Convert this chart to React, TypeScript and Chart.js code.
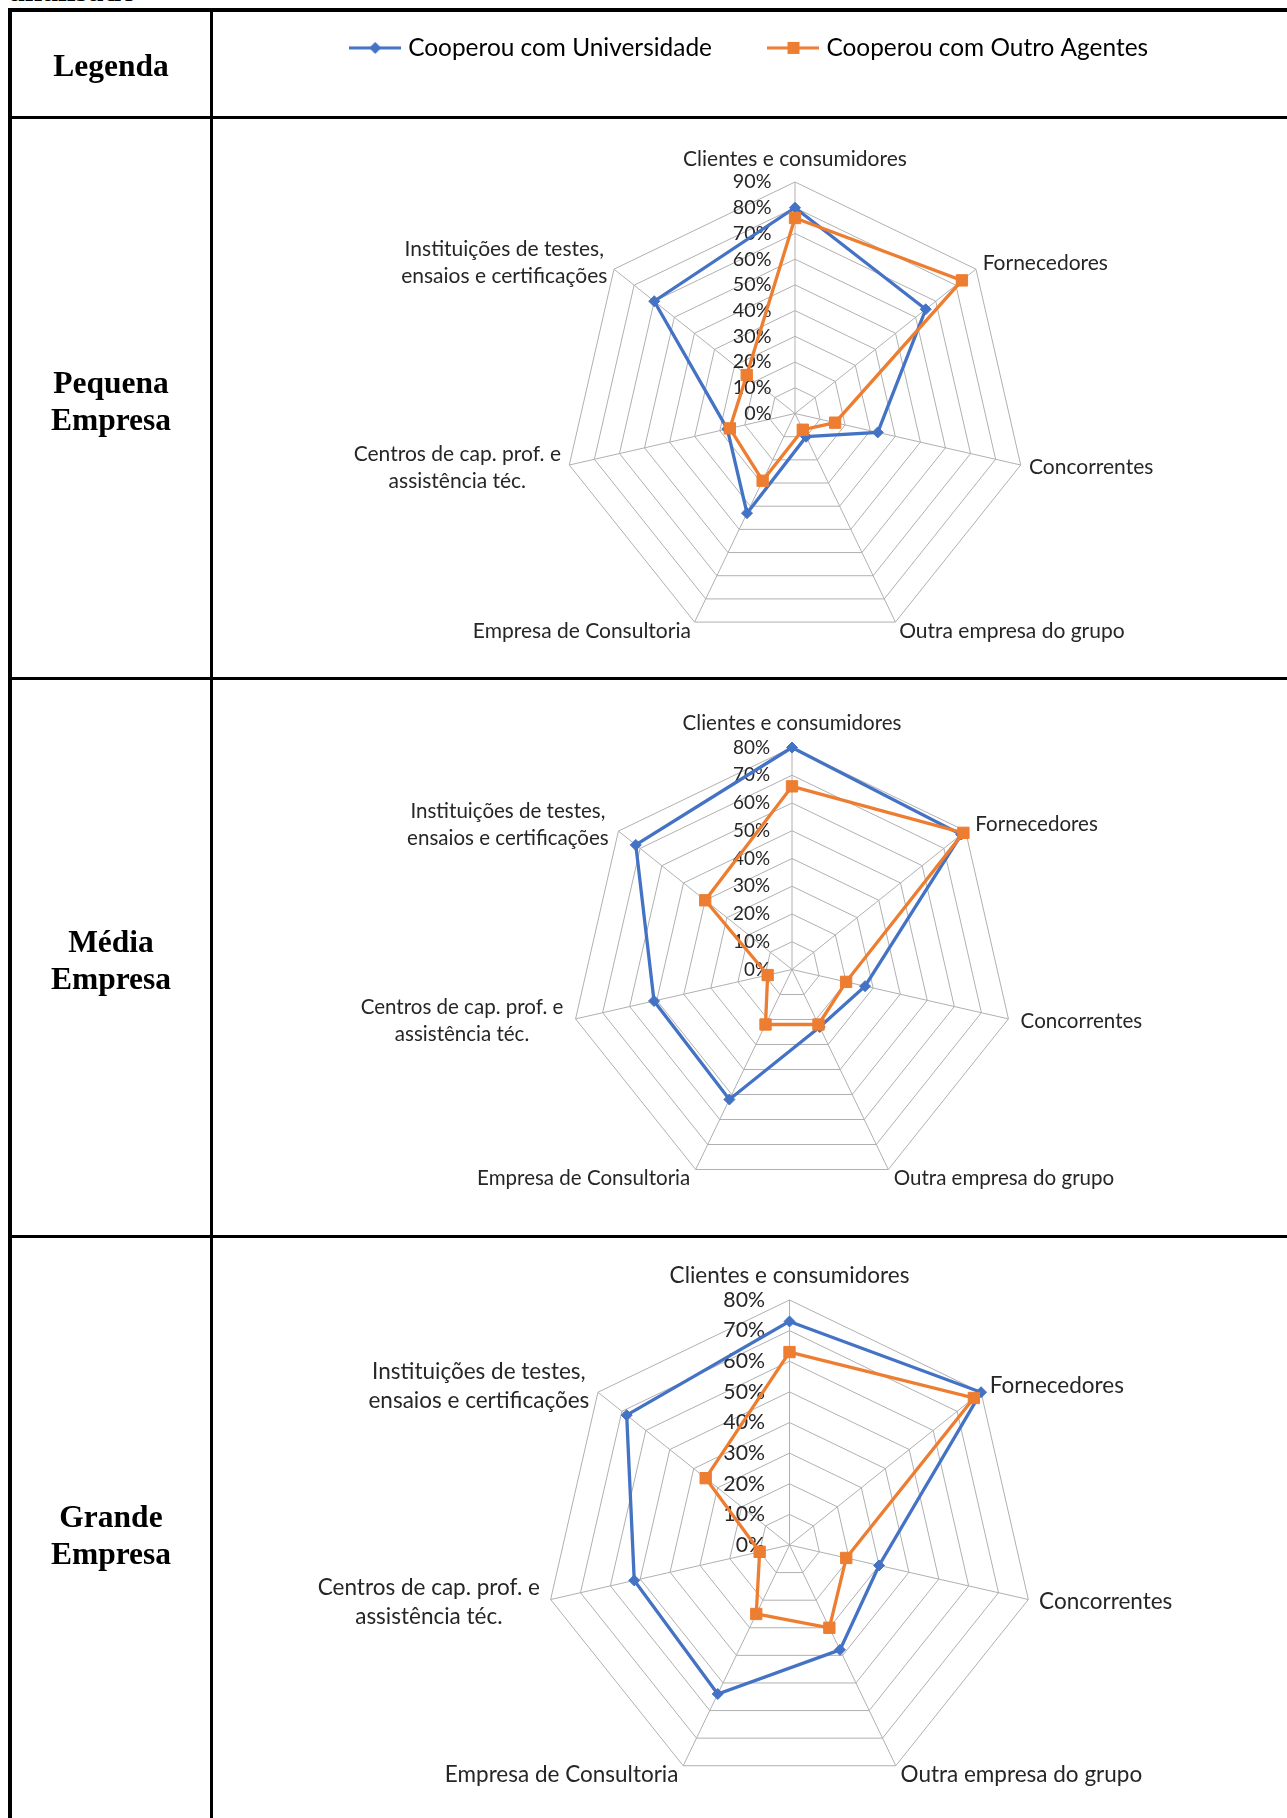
import React, { useEffect, useRef } from 'react';
import { Chart, RadialLinearScale, registerables } from 'chart.js';

Chart.register(...registerables);

// ---------------- data ----------------
const categories: (string | string[])[] = [
  'Clientes e consumidores',
  'Fornecedores',
  'Concorrentes',
  'Outra empresa do grupo',
  'Empresa de Consultoria',
  ['Centros de cap. prof. e', 'assistência téc.'],
  ['Instituições de testes,', 'ensaios e certificações'],
];
const seriesNames = ['Cooperou com Universidade', 'Cooperou com Outro Agentes'];

const pequenaUniversidade = [80, 65, 33, 10, 43, 27, 70];
const pequenaOutros = [76, 83, 16, 7, 29, 26, 24];
const mediaUniversidade = [80, 78, 27, 23, 52, 51, 72];
const mediaOutros = [66, 79, 20, 22, 22, 9, 40];
const grandeUniversidade = [73, 80, 30, 38, 54, 52, 68];
const grandeOutros = [63, 77, 19, 30, 25, 10, 35];

const pequenaMax = 90;
const mediaMax = 80;
const grandeMax = 80;
const tickStep = 10;

const legendTitle = 'Legenda';
const rowTitles = [
  ['Pequena', 'Empresa'],
  ['Média', 'Empresa'],
  ['Grande', 'Empresa'],
];
const captionFragment = 'analisado';

// ---------------- styles ----------------
const FAMILY = 'Lato, "Open Sans", sans-serif';
const SERIF = '"Liberation Serif", "Times New Roman", serif';
const TEXT = '#262626';
const GRID = '#b0b0b0';
const BLUE = '#4472C4';
const ORANGE = '#ED7D31';
const LABEL_DY = 10;

const CANVAS_LEFT = 213;
const CANVAS_W = 1074;

function fitFontSize(text: string, width: number): number {
  const ctx = document.createElement('canvas').getContext('2d') as CanvasRenderingContext2D;
  ctx.font = `100px ${FAMILY}`;
  return (100 * width) / ctx.measureText(text).width;
}

const legendSize = fitFontSize(seriesNames[0], 304);
const LEGEND_PAD = 60.7;
const LEGEND_SHIFT = 2.5;
const LEGEND_CY = 47.5;
const legendBoxW = 66 - legendSize;
const chart1Top = Math.round(LEGEND_CY - LEGEND_PAD - legendSize / 2);

function legendIcon(color: string, shape: 'diamond' | 'square') {
  const c = document.createElement('canvas');
  c.width = 52;
  c.height = 16;
  const x = c.getContext('2d') as CanvasRenderingContext2D;
  x.strokeStyle = color;
  x.lineWidth = 3;
  x.beginPath();
  x.moveTo(0, 8);
  x.lineTo(52, 8);
  x.stroke();
  x.fillStyle = color;
  if (shape === 'diamond') {
    x.beginPath();
    x.moveTo(26, 2);
    x.lineTo(32, 8);
    x.lineTo(26, 14);
    x.lineTo(20, 8);
    x.closePath();
    x.fill();
  } else {
    x.fillRect(20, 2, 12, 12);
  }
  return c;
}
const legendIcons = [legendIcon(BLUE, 'diamond'), legendIcon(ORANGE, 'square')];

type Geo = {
  cx: number; cy: number; r: number; tickGap: number; padTop: number; padSide: number;
  labelW: number; tickW: number; lh: number;
};

// padTop / padSide are on top of the 8px extra that the radial scale adds for tick backdrops
const geoPequena: Geo = { cx: 795, cy: 413.5, r: 231.5, tickGap: 23.5, padTop: 1.5, padSide: 0.5, labelW: 224, tickW: 38.7, lh: 27 };
const geoMedia: Geo = { cx: 792, cy: 969.5, r: 222, tickGap: 22, padTop: 2.5, padSide: 4.5, labelW: 219, tickW: 37, lh: 26.5 };
const geoGrande: Geo = { cx: 789.5, cy: 1545, r: 245, tickGap: 24.5, padTop: 1.5, padSide: 3, labelW: 240, tickW: 41.7, lh: 29 };

function makeRadialScale(scaleId: string, g: Geo, left: number, top: number, tickSize: number) {
  const cx = g.cx - left;
  const cy = g.cy - top;
  const Base: any = RadialLinearScale;
  class ExcelRadialScale extends Base {
    static id = scaleId;
    setCenterPoint() {
      this.xCenter = cx;
      this.yCenter = cy;
      this.drawingArea = g.r;
    }
    fit() {
      super.fit();
      const items = this._pointLabelItems;
      const labels = this._pointLabels;
      if (!Array.isArray(items)) return;
      const n = items.length;
      for (let i = 1; i < n; i++) {
        const it = items[i];
        const theta = (2 * Math.PI * i) / n;
        const vertex = this.getPointPosition(i, this.drawingArea);
        const h = it.bottom - it.top;
        const shift = vertex.y - LABEL_DY * Math.cos(theta) - h / 2 - it.top;
        it.y += shift;
        it.top += shift;
        it.bottom += shift;
        if (Array.isArray(labels[i])) {
          it.x = (it.left + it.right) / 2;
          it.textAlign = 'center';
        }
      }
    }
    drawLabels() {
      const ctx = this.ctx;
      ctx.save();
      ctx.translate(this.xCenter, this.yCenter);
      ctx.font = `${tickSize}px ${FAMILY}`;
      ctx.fillStyle = TEXT;
      ctx.textAlign = 'right';
      ctx.textBaseline = 'middle';
      this.ticks.forEach((t: any) => {
        ctx.fillText(String(t.label), -g.tickGap, -this.getDistanceFromCenterForValue(t.value));
      });
      ctx.restore();
    }
  }
  return ExcelRadialScale;
}

type Panel = {
  key: string; top: number; bottom: number; geo: Geo; uni: number[]; outros: number[]; max: number; legend: boolean;
};

const panels: Panel[] = [
  { key: 'pequena', top: chart1Top, bottom: 677, geo: geoPequena, uni: pequenaUniversidade, outros: pequenaOutros, max: pequenaMax, legend: true },
  { key: 'media', top: 680, bottom: 1235, geo: geoMedia, uni: mediaUniversidade, outros: mediaOutros, max: mediaMax, legend: false },
  { key: 'grande', top: 1238, bottom: 1818, geo: geoGrande, uni: grandeUniversidade, outros: grandeOutros, max: grandeMax, legend: false },
];

panels.forEach((p) => {
  const tickSize = fitFontSize(`${p.max}%`, p.geo.tickW);
  Chart.register(makeRadialScale('excel_' + p.key, p.geo, CANVAS_LEFT, p.top, tickSize) as any);
});

function RadarPanel({ panel }: { panel: Panel }) {
  const ref = useRef<HTMLCanvasElement>(null);
  useEffect(() => {
    const g = panel.geo;
    const labelSize = fitFontSize(categories[0] as string, g.labelW);
    const chart = new Chart(ref.current as HTMLCanvasElement, {
      type: 'radar',
      data: {
        labels: categories as any,
        datasets: [
          {
            label: seriesNames[0],
            data: panel.uni,
            borderColor: BLUE,
            backgroundColor: BLUE,
            pointBackgroundColor: BLUE,
            pointBorderColor: BLUE,
            pointStyle: 'rectRot',
            pointRadius: 5.5,
            pointBorderWidth: 1,
            borderWidth: 3.3,
            fill: false,
            order: 2,
            clip: false as any,
          },
          {
            label: seriesNames[1],
            data: panel.outros,
            borderColor: ORANGE,
            backgroundColor: ORANGE,
            pointBackgroundColor: ORANGE,
            pointBorderColor: ORANGE,
            pointStyle: 'rect',
            pointRadius: 8,
            pointBorderWidth: 1,
            borderWidth: 3.3,
            fill: false,
            order: 1,
            clip: false as any,
          },
        ],
      },
      options: {
        responsive: false,
        animation: false,
        events: [],
        layout: { padding: { left: panel.legend ? LEGEND_SHIFT : 0 } },
        elements: { line: { tension: 0 } },
        scales: {
          r: {
            type: ('excel_' + panel.key) as any,
            min: 0,
            max: panel.max,
            ticks: {
              stepSize: tickStep,
              display: true,
              showLabelBackdrop: false,
              backdropPadding: 2,
              font: { size: 12 },
              callback: (v: any) => `${v}%`,
            },
            grid: { color: GRID, lineWidth: 1 },
            angleLines: { color: GRID, lineWidth: 1 },
            pointLabels: {
              color: TEXT,
              font: { family: FAMILY, size: labelSize, lineHeight: g.lh / labelSize },
              padding: (c: any) => (c.index === 0 ? g.padTop : g.padSide),
            },
          } as any,
        },
        plugins: {
          tooltip: { enabled: false },
          legend: {
            display: panel.legend,
            position: 'top',
            align: 'center',
            labels: {
              usePointStyle: true,
              pointStyleWidth: legendBoxW,
              boxHeight: legendSize,
              padding: LEGEND_PAD,
              color: TEXT,
              font: { family: FAMILY, size: legendSize },
              generateLabels: (ch: any) =>
                ch.data.datasets.map((ds: any, i: number) => ({
                  text: ds.label,
                  pointStyle: legendIcons[i],
                  fillStyle: ds.borderColor,
                  strokeStyle: ds.borderColor,
                  lineWidth: 0,
                  hidden: false,
                  datasetIndex: i,
                })),
            },
          },
        },
      } as any,
    });
    return () => chart.destroy();
  }, []);
  return (
    <canvas
      ref={ref}
      width={CANVAS_W}
      height={panel.bottom - panel.top}
      style={{ position: 'absolute', left: CANVAS_LEFT, top: panel.top, zIndex: 1, display: 'block' }}
    />
  );
}

const rule = (left: number, top: number, width: number, height: number): React.CSSProperties => ({
  position: 'absolute', left, top, width, height, background: '#000', zIndex: 2,
});

const cellText = (top: number, bottom: number): React.CSSProperties => ({
  position: 'absolute', left: 12, width: 198, top, height: bottom - top,
  display: 'flex', alignItems: 'center', justifyContent: 'center', textAlign: 'center',
  fontFamily: SERIF, fontWeight: 'bold', fontSize: 31.5, lineHeight: '37px', color: '#000', zIndex: 2,
});

export default function App() {
  const rowBounds = [[122, 679], [683, 1237], [1238, 1832]];
  return (
    <div style={{ position: 'absolute', left: 0, top: 0, width: 1287, height: 1818, overflow: 'hidden', background: '#fff' }}>
      <div style={{ position: 'absolute', left: 9, top: -25, fontFamily: SERIF, fontWeight: 'bold', fontSize: 31.5, lineHeight: '31px', color: '#000', whiteSpace: 'nowrap' }}>
        {captionFragment}
      </div>
      {panels.map((p) => (
        <RadarPanel key={p.key} panel={p} />
      ))}
      <div style={rule(8, 8, 1292, 4)} />
      <div style={rule(8, 8, 4, 1832)} />
      <div style={rule(210, 8, 3, 1832)} />
      <div style={rule(8, 116, 1292, 3)} />
      <div style={rule(8, 677, 1292, 3)} />
      <div style={rule(8, 1235, 1292, 3)} />
      <div style={cellText(13, 117)}>{legendTitle}</div>
      {rowTitles.map((t, i) => (
        <div key={i} style={cellText(rowBounds[i][0], rowBounds[i][1])}>
          <div>
            {t[0]}
            <br />
            {t[1]}
          </div>
        </div>
      ))}
    </div>
  );
}
